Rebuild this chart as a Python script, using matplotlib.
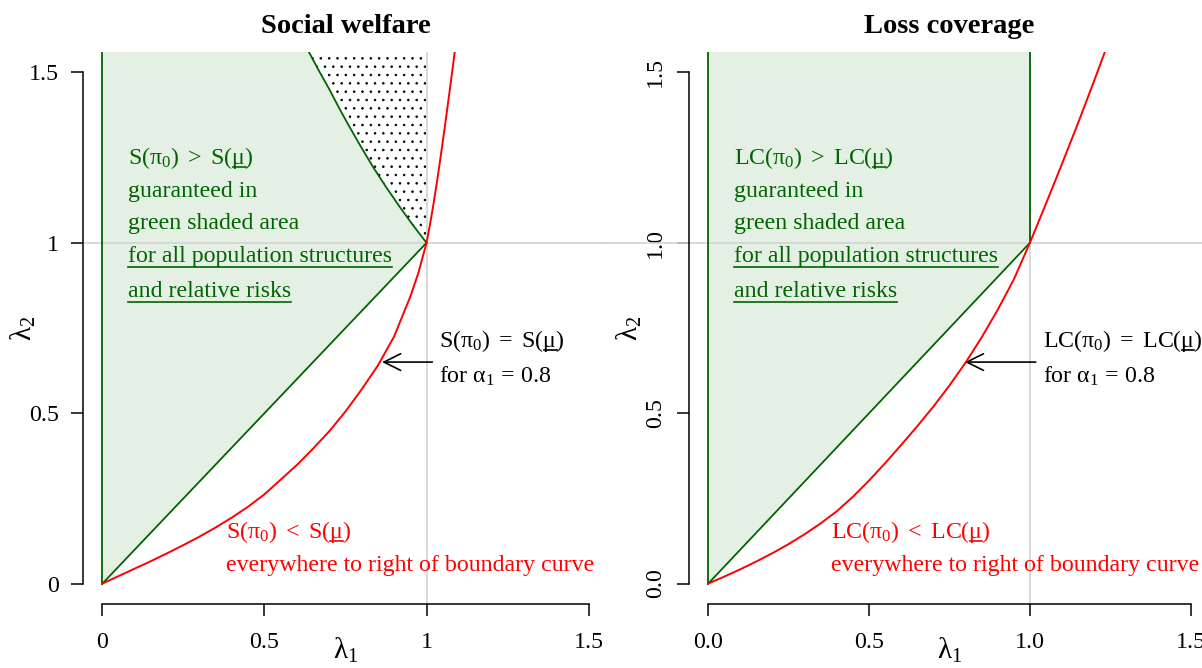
import matplotlib
matplotlib.use("Agg")
import matplotlib.pyplot as plt
from matplotlib.lines import Line2D
from matplotlib.transforms import IdentityTransform

plt.rcParams['font.family'] = ['Liberation Serif', 'DejaVu Serif']
plt.rcParams['mathtext.fontset'] = 'custom'
plt.rcParams['mathtext.rm'] = 'Liberation Serif'
plt.rcParams['mathtext.it'] = 'Liberation Serif:italic'
plt.rcParams['mathtext.bf'] = 'Liberation Serif:bold'
plt.rcParams['mathtext.default'] = 'rm'
plt.rcParams['hatch.linewidth'] = 0.6

# boundary curves (lambda1, lambda2)
sw_red_l1 = [0, 0.05, 0.10, 0.15, 0.20, 0.25, 0.30, 0.35, 0.40, 0.45, 0.50,
             0.55, 0.60, 0.65, 0.70, 0.75, 0.80, 0.85, 0.90, 0.95, 0.975, 1.0,
             1.01, 1.02, 1.03, 1.04, 1.05, 1.06, 1.07, 1.08, 1.087]
sw_red_l2 = [0, 0.022, 0.044, 0.066, 0.089, 0.113, 0.138, 0.165, 0.194, 0.226,
             0.262, 0.305, 0.348, 0.396, 0.447, 0.505, 0.570, 0.640, 0.725,
             0.842, 0.912, 1.0, 1.05, 1.105, 1.165, 1.229, 1.296, 1.365, 1.436,
             1.508, 1.56]
sw_green_l1 = [1.0, 0.958, 0.917, 0.875, 0.834, 0.797, 0.762, 0.730, 0.701,
               0.668, 0.637]
sw_green_l2 = [1.0, 1.052, 1.106, 1.164, 1.224, 1.283, 1.341, 1.396, 1.449,
               1.505, 1.56]

lc_red_l1 = [0, 0.05, 0.10, 0.15, 0.20, 0.25, 0.30, 0.35, 0.40, 0.45, 0.50,
             0.55, 0.60, 0.65, 0.70, 0.75, 0.80, 0.85, 0.90, 0.95, 1.0, 1.05,
             1.10, 1.15, 1.20, 1.233]
lc_red_l2 = [0, 0.0205, 0.042, 0.065, 0.0895, 0.116, 0.145, 0.177, 0.2125,
             0.255, 0.3025, 0.3535, 0.407, 0.462, 0.5195, 0.5815, 0.6485,
             0.7225, 0.8035, 0.8925, 1.0, 1.115, 1.232, 1.352, 1.476, 1.56]

ticks = [0, 0.5, 1, 1.5]
sw_ticklabels = ["0", "0.5", "1", "1.5"]
lc_ticklabels = ["0.0", "0.5", "1.0", "1.5"]

XLIM = (-0.06, 1.56)
YLIM = (-0.06, 1.56)

GREEN = "#006400"
SHADE = "#E5F0E5"
RED = "#FF0000"
GREY = "#D3D3D3"
FS = 17.2

fig = plt.figure(figsize=(12.02, 6.68), dpi=100)
ax1 = fig.add_axes([83 / 1202, 1 - 604 / 668, 525 / 1202, 552 / 668])
ax2 = fig.add_axes([689 / 1202, 1 - 604 / 668, 521 / 1202, 552 / 668])


def setup(ax, labels, title, rot_y):
    ax.set_xlim(*XLIM)
    ax.set_ylim(*YLIM)
    for s in ["top", "right"]:
        ax.spines[s].set_visible(False)
    for s in ["left", "bottom"]:
        ax.spines[s].set_bounds(0, 1.5)
        ax.spines[s].set_linewidth(1.1)
    ax.set_xticks(ticks)
    ax.set_xticklabels(labels, fontsize=FS)
    ax.set_yticks(ticks)
    if rot_y:
        ax.set_yticklabels(labels, fontsize=FS, rotation=90, va="center")
        ax.tick_params(axis="y", pad=8)
    else:
        ax.set_yticklabels(labels, fontsize=FS)
        ax.tick_params(axis="y", pad=8.6)
    ax.tick_params(axis="x", pad=11.5)
    ax.tick_params(length=8.6, width=1.1)
    ax.set_title(title, fontsize=20.5, fontweight="bold", pad=13.5)
    ax.text(0.5, -0.1, r"$\lambda_1$", transform=ax.transAxes,
            ha="center", va="baseline", fontsize=21)
    ax.text(-0.114, 0.5, r"$\lambda_2$", transform=ax.transAxes,
            ha="center", va="center", rotation=90, fontsize=21)


setup(ax1, sw_ticklabels, "Social welfare", False)
setup(ax2, lc_ticklabels, "Loss coverage", True)

top = YLIM[1]

# --- Social welfare panel ---
ax1.fill([0, 0] + sw_green_l1[::-1] + [0],
         [0, top] + sw_green_l2[::-1] + [0],
         color=SHADE, lw=0, zorder=1)
ax1.fill(sw_green_l1 + [1, 1], sw_green_l2 + [top, 1],
         facecolor="none", edgecolor="black", hatch="..", lw=0, zorder=1.5)
ax1.axhline(1, color=GREY, lw=1.2, zorder=2)
ax1.axvline(1, color=GREY, lw=1.2, zorder=2)
ax1.plot([0, 0], [0, top], color=GREEN, lw=1.3, zorder=3)
ax1.plot([0, 1], [0, 1], color=GREEN, lw=1.3, zorder=3)
ax1.plot(sw_green_l1, sw_green_l2, color=GREEN, lw=1.3, zorder=3)
ax1.plot(sw_red_l1, sw_red_l2, color=RED, lw=1.4, zorder=4)

# --- Loss coverage panel ---
ax2.fill([0, 0, 1, 1, 0], [0, top, top, 1, 0], color=SHADE, lw=0, zorder=1)
ax2.axhline(1, xmin=-0.171, xmax=1, color=GREY, lw=1.2, zorder=2, clip_on=False)
ax2.axvline(1, color=GREY, lw=1.2, zorder=2)
ax2.plot([0, 0], [0, top], color=GREEN, lw=1.3, zorder=3)
ax2.plot([1, 1], [1, top], color=GREEN, lw=1.3, zorder=3)
ax2.plot([0, 1], [0, 1], color=GREEN, lw=1.3, zorder=3)
ax2.plot(lc_red_l1, lc_red_l2, color=RED, lw=1.4, zorder=4)

# --- annotations ---
green_lines = ["guaranteed in", "green shaded area",
               "for all population structures", "and relative risks"]
green_y = [1.135, 1.04, 0.945, 0.84]
underlines = []  # (ax, x, y, prefix, part, drop, color)

for ax, name, tip in [(ax1, "S", 0.863), (ax2, "LC", 0.798)]:
    head = r"$%s(\pi_0)\ >\ %s(\mu)$" % (name, name)
    ax.text(0.08, 1.23, head, color=GREEN, fontsize=FS, va="baseline")
    underlines.append((ax, 0.08, 1.23, r"$%s(\pi_0)\ >\ %s($" % (name, name),
                       r"$%s(\pi_0)\ >\ %s(\mu$" % (name, name), 3, GREEN))
    for s, y in zip(green_lines, green_y):
        ax.text(0.08, y, s, color=GREEN, fontsize=FS, va="baseline")
    for s, y in zip(green_lines[2:], green_y[2:]):
        underlines.append((ax, 0.08, y, "", s, 5, GREEN))

    eq = r"$%s(\pi_0)\ =\ %s(\mu)$" % (name, name)
    ax.text(1.04, 0.694, eq, color="black", fontsize=FS, va="baseline",
            clip_on=False)
    underlines.append((ax, 1.04, 0.694, r"$%s(\pi_0)\ =\ %s($" % (name, name),
                       r"$%s(\pi_0)\ =\ %s(\mu$" % (name, name), 3, "black"))
    ax.text(1.04, 0.59, r"for $\alpha_1\,=\,0.8$", color="black", fontsize=FS,
            va="baseline")
    ax.annotate("", xy=(tip, 0.65), xytext=(1.018, 0.65),
                arrowprops=dict(arrowstyle="->,head_length=1.2,head_width=0.6",
                                lw=1.2, color="black", shrinkA=0, shrinkB=0,
                                mutation_scale=10))

    lt = r"$%s(\pi_0)\ <\ %s(\mu)$" % (name, name)
    ax.text(0.38, 0.134, lt, color=RED, fontsize=FS, va="baseline")
    underlines.append((ax, 0.38, 0.134, r"$%s(\pi_0)\ <\ %s($" % (name, name),
                       r"$%s(\pi_0)\ <\ %s(\mu$" % (name, name), 3, RED))
    ax.text(0.38, 0.036, "everywhere to right of boundary curve", color=RED,
            fontsize=FS, va="baseline")

fig.canvas.draw()
renderer = fig.canvas.get_renderer()


def right_edge(ax, x, y, s):
    t = ax.text(x, y, s, fontsize=FS, va="baseline")
    bb = t.get_window_extent(renderer)
    t.remove()
    return bb.x1


for ax, x, y, prefix, part, drop, col in underlines:
    x0, y0 = ax.transData.transform((x, y))
    start = right_edge(ax, x, y, prefix) if prefix else x0
    end = right_edge(ax, x, y, part)
    fig.add_artist(Line2D([start, end], [y0 - drop, y0 - drop], color=col,
                          lw=1.2, transform=IdentityTransform()))

fig.savefig("out.png", dpi=100)
